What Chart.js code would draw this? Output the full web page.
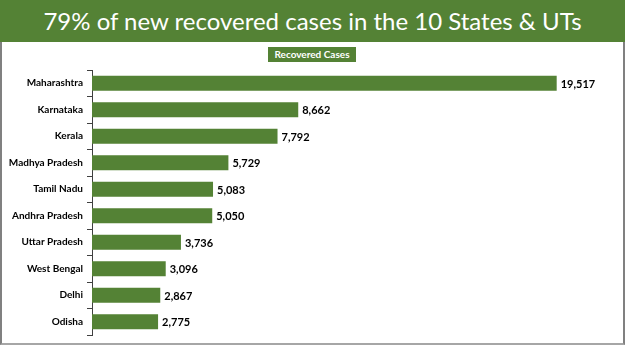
<!DOCTYPE html>
<html>
<head>
<meta charset="utf-8">
<script src="https://cdn.jsdelivr.net/npm/chart.js@4"></script>
<style>
  body { margin: 0; width: 625px; height: 351px; background: #fff; position: relative; overflow: hidden; font-family: Lato, sans-serif; }
  #banner { position: absolute; left: 0; top: 0; width: 625px; height: 42px; background: #548235; color: #fff;
            font-size: 24px; line-height: 42px; text-align: center; }
  #panel { position: absolute; left: 0; top: 42px; width: 621px; height: 301px;
           border-left: 2px solid #808080; border-right: 2px solid #808080; border-bottom: 2px solid #a6a6a6; }
  #series { position: absolute; left: 268px; top: 47px; width: 88px; height: 15px; background: #548235; color: #fff;
            font-weight: bold; font-size: 10px; line-height: 15px; text-align: center; }
  #c { position: absolute; left: 0; top: 42px; }
</style>
</head>
<body>
<div id="banner">79% of new recovered cases in the 10 States &amp; UTs</div>
<div id="panel"></div>
<canvas id="c" width="625" height="303"></canvas>
<div id="series">Recovered Cases</div>
<script>
// ===== dati =====
const states = ['Maharashtra', 'Karnataka', 'Kerala', 'Madhya Pradesh', 'Tamil Nadu',
                'Andhra Pradesh', 'Uttar Pradesh', 'West Bengal', 'Delhi', 'Odisha'];
const recovered = [19517, 8662, 7792, 5729, 5083, 5050, 3736, 3096, 2867, 2775];

// etichette dei valori a destra delle barre
const valueLabels = {
    id: 'valueLabels',
    afterDatasetsDraw(chart) {
        const ctx = chart.ctx;
        const meta = chart.getDatasetMeta(0);
        ctx.save();
        ctx.font = 'bold 11px Lato';
        ctx.fillStyle = '#000';
        ctx.textBaseline = 'middle';
        ctx.textAlign = 'left';
        meta.data.forEach((bar, i) => {
            ctx.fillText(recovered[i].toLocaleString('en-US'), bar.x + 4, bar.y + 1);
        });
        ctx.restore();
    }
};

new Chart(document.getElementById('c').getContext('2d'), {
    type: 'bar',
    data: {
        labels: states,
        datasets: [{
            label: 'Recovered Cases',
            data: recovered,
            backgroundColor: '#548235',
            barPercentage: 0.56,
            categoryPercentage: 1
        }]
    },
    options: {
        indexAxis: 'y',
        responsive: false,
        animation: false,
        layout: { padding: { top: 28, bottom: 8, right: 33, left: 0 } },
        plugins: { legend: { display: false }, tooltip: { enabled: false } },
        scales: {
            x: { display: false, min: 0, max: 21000 },
            y: {
                afterFit(scale) { scale.width = 92; },
                border: { color: '#404040', width: 1 },
                grid: { drawOnChartArea: false, tickLength: 5, color: '#404040', offset: true },
                ticks: { color: '#000', padding: 4, font: { family: 'Lato', weight: 'bold', size: 10 } }
            }
        }
    },
    plugins: [valueLabels]
});
</script>
</body>
</html>
